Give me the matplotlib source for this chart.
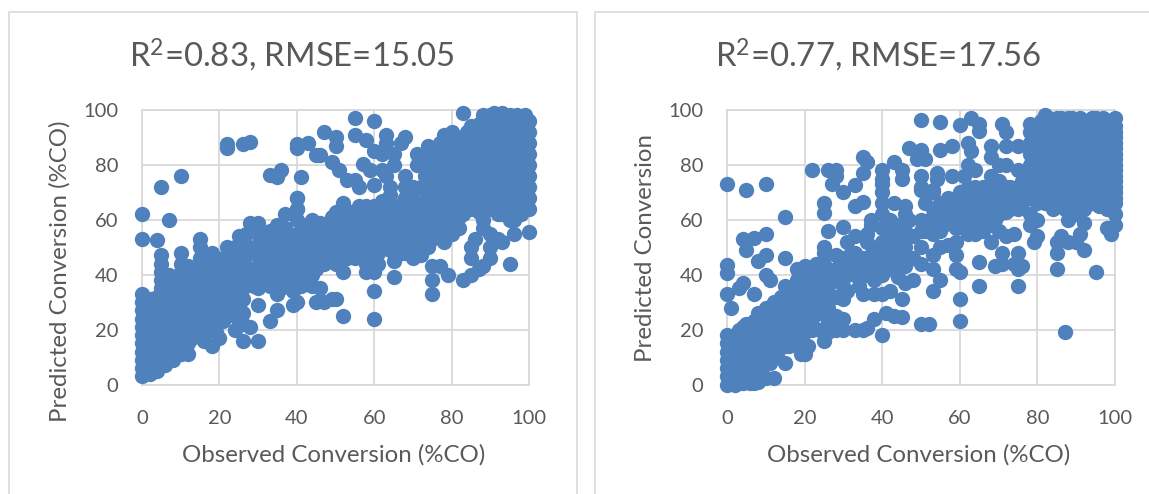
import matplotlib
matplotlib.use("Agg")
import matplotlib.pyplot as plt
from matplotlib.patches import Rectangle

plt.rcParams['font.family'] = ['Lato', 'DejaVu Sans']
plt.rcParams['mathtext.default'] = 'regular'

# values, (observed, predicted)
low_a = [(0,3),(0,6),(0,9),(0,12),(0,15),(0,18),(0,21),(0,24),(0,27),(0,30),(0,33),
(2,4),(2,7),(2,10),(2,13),(2,16),(2,19),(2,22),(2,25),(2,28),(2,31),
(4,5),(4,8),(4,11),(4,14),(4,17),(4,20),(4,23),(4,26),(4,29),(4,32),(5,35),(5,38),(5,41),(5,44),(5,47),
(6,7),(6,10),(6,13),(6,16),(6,19),(6,22),(6,25),(6,28),(6,31),(6,34),(6,37),(7,40),
(8,9),(8,12),(8,15),(8,18),(8,21),(8,24),(8,27),(8,30),(8,33),(8,36),(8,39),
(10,11),(10,14),(10,17),(10,20),(10,23),(10,26),(10,29),(10,32),(10,35),(10,38),(10,41),(10,44),(10,48),
(12,11),(12,15),(12,19),(12,23),(12,27),(12,31),(12,35),(12,39),(12,43),
(14,19),(14,23),(14,27),(14,31),(14,35),(14,39),(15,43),(15,46),(15,50),(15,53),
(16,16),(16,22),(16,26),(16,30),(16,34),(16,38),(16,42),
(18,14),(18,22),(18,26),(18,30),(18,34),(18,38),(18,42),(18,45),(18,48),
(20,17),(20,24),(20,28),(20,32),(20,36),(20,40),(20,44),
(22,25),(22,29),(22,33),(22,37),(22,41),(22,45),(22,50),
(24,20),(24,26),(24,30),(24,34),(24,38),(24,42),(24,46),(24,50),(25,54),
(26,16),(26,22),(26,26),(26,31),(26,35),(27,39),(27,43),(27,47),(27,51),(27,55),
(1,12),(3,20),(5,25),(7,31),(9,25),(11,33),(13,21),(13,29),(13,37),(15,25),(15,33),(15,40),(17,28),(17,36),(19,31),
(19,39),(21,27),(21,35),(21,42),(23,31),(23,39),(23,47),(25,29),(25,37),(25,44),
(1,5),(1,8),(1,16),(1,20),(1,24),(1,28),(3,6),(3,10),(3,14),(3,24),(3,28),(5,9),(5,13),(5,17),(5,21),(5,29),(5,32),(7,11),
(7,15),(7,19),(7,23),(7,27),(7,35),(9,13),(9,17),(9,21),(9,29),(9,33),(9,37),(11,13),(11,17),(11,21),(11,25),(11,29),(11,37),
(11,41),(13,17),(13,25),(13,33),(13,41),(15,21),(15,29),(15,37),(17,20),(17,24),(17,32),(17,40),(19,19),(19,23),(19,27),(19,35),
(19,43),(21,23),(21,31),(21,38),(21,46),(23,27),(23,35),(23,43),(25,23),(25,33),(25,41),(25,48)]
mid_a = [(28,21),(30,16),(30,29),(33,23),(35,27),(30,35),(30,39),(30,43),(30,47),(30,51),(30,55),(28,59),(30,59),
(33,36),(33,48),(33,52),(33,56),(35,33),(35,38),(35,45),(35,50),(35,54),(35,58),(37,62),(37,39),(37,47),(37,52),(37,57),
(39,34),(39,29),(40,30),(40,40),(40,46),(40,50),(40,55),(40,60),(40,64),(40,68),(42,39),(42,44),(42,49),(42,53),(42,58),
(44,36),(44,40),(44,46),(44,51),(44,56),(44,60),(45,30),(46,35),(47,30),(46,44),(46,49),(46,54),(46,59),(49,31),(50,31),
(48,47),(48,52),(48,57),(50,44),(50,49),(50,54),(50,59),(50,63),(52,25),(52,41),(52,46),(52,52),(52,57),(52,62),(52,66),
(54,48),(54,53),(54,58),(54,63),(56,47),(56,52),(56,57),(56,62),(56,65),(58,44),(58,41),(58,50),(58,55),(58,60),(58,65),
(60,24),(60,34),(60,41),(60,44),(60,50),(60,55),(60,60),(60,65),(62,52),(62,57),(62,62),(62,67),(65,39),(65,45),(64,49),
(64,54),(64,59),(64,64),(64,69),(66,50),(66,55),(66,60),(66,65),(68,48),(68,53),(68,58),(68,63),(68,68),(70,46),(70,50),
(70,55),(70,60),(70,65),(72,47),(72,57),(72,62),(73,67),(75,33),(75,38),(75,43),(77,43),(79,40),(75,53),(75,58),(75,63),
(78,52),(78,57),(78,62),(80,55),(82,57),(82,61),(83,38),(85,40),(87,42),(85,46),(85,50),(86,53),(88,43),(90,46),(90,50),
(88,57),(90,55),(92,53),(93,52),(95,44),(96,55),(88,60),(84,64),
(32,42),(32,46),(32,50),(34,42),(34,47),(36,35),(36,44),(36,49),(38,45),(38,50),(38,55),(41,36),(41,47),(41,52),(43,43),
(43,48),(43,55),(45,42),(45,48),(45,53),(47,51),(47,56),(49,50),(49,55),(49,61),(51,48),(51,52),(51,60),(53,51),(53,56),
(53,60),(55,50),(55,55),(55,60),(57,48),(57,54),(57,59),(59,53),(59,58),(59,63),(61,48),(61,54),(61,59),(61,64),(63,55),
(63,61),(65,52),(65,57),(65,62),(67,51),(67,56),(67,61),(69,52),(69,57),(69,62),(71,58),(71,63),(73,60),(73,56),(76,55),
(76,60),(79,55),(79,60),(81,60),(83,62),(71,52),(76,66),(72,66),
(29,36),(29,42),(29,48),(31,38),(31,44),(31,52),(33,40),(33,44),(35,42),(37,43),(39,38),(39,42),(39,47),(41,41),(43,37),
(45,45),(47,44),(47,48),(49,45),(51,44),(53,46),(55,46),(59,46),(61,44),(63,50),(67,48),(69,48),(74,50),(74,55),(74,60),
(77,55),(77,60),(77,64),(80,62),(79,65),(74,66)]
top_a = [(74,70),(74,74),(74,78),(74,83),(74,87),(72,72),(71,80),(71,84),(77,68),(77,72),(77,76),(77,80),(77,84),(77,88),
(78,91),(80,66),(80,70),(80,74),(80,78),(80,82),(80,86),(80,90),(80,92),(83,66),(83,70),(83,74),(83,78),(83,82),(83,86),
(83,90),(83,99),(85,94),(86,65),(86,69),(86,73),(86,77),(86,81),(86,85),(86,89),(86,93),(88,98),(89,66),(89,70),(89,74),
(89,78),(89,82),(89,86),(89,90),(89,94),(90,98),(92,62),(92,66),(92,70),(92,74),(92,78),(92,82),(92,86),(92,90),(92,94),
(93,99),(95,60),(95,64),(95,68),(95,72),(95,76),(95,80),(95,84),(95,88),(95,92),(95,96),(97,98),(98,62),(98,66),(98,70),
(98,74),(98,78),(98,82),(98,86),(98,90),(98,94),(100,55.5),(100,64),(100,68),(100,72),(100,76),(100,80),(100,84),(100,88),
(100,92),(100,96),(99,98)]
fill_a = [(76,70),(76,74),(76,78),(76,82),(78,66),(78,70),(78,74),(78,78),(78,82),(78,86),(82,64),(82,68),(82,72),(82,76),
(82,80),(82,84),(82,88),(84,68),(84,72),(84,76),(84,80),(84,84),(84,88),(84,92),(87,63),(87,67),(87,71),(87,75),(87,79),
(87,83),(87,87),(87,91),(87,95),(90,64),(90,68),(90,72),(90,76),(90,80),(90,84),(90,88),(90,92),(90,96),(93,62),(93,64),
(93,68),(93,72),(93,76),(93,80),(93,84),(93,88),(93,92),(93,96),(96,60),(96,66),(96,70),(96,74),(96,78),(96,82),(96,86),
(96,90),(96,94),(99,66),(99,70),(99,74),(99,78),(99,82),(99,86),(99,90),(99,94),(91,99),(95,98),(73,76),(73,80),
(75,68),(75,72),(75,76),(75,80),(75,84),(79,68),(79,72),(79,76),(79,80),(79,84),(79,88),(81,66),(81,70),(81,74),(81,78),
(81,82),(81,86),(81,90),(85,64),(85,68),(85,72),(85,76),(85,80),(85,84),(85,88),(85,91),(88,64),(88,68),(88,72),(88,76),
(88,80),(88,84),(88,88),(88,92),(91,64),(91,68),(91,72),(91,76),(91,80),(91,84),(91,88),(91,92),(94,66),(94,70),(94,74),
(94,78),(94,82),(94,86),(94,90),(94,94),(97,64),(97,68),(97,72),(97,76),(97,80),(97,84),(97,88),(97,92),(97,96)]
out_a = [(0,62),(0,53),(5,72),(10,76),(7,60),(4,52.5),(22,87.5),(22,86),(26,87.5),(28,88.5),(33,76.5),(35,75.5),(36,78),
(40,87.5),(40,86),(41,75.5),(43,88),(45,83.5),(46,83.5),(47,92),(50,90),(50,87),(49,81),(51,78),(53,74.5),(55,74.5),(55,97),
(55,91),(58,89),(60,96),(57,80.5),(59,78),(63,91),(63,88),(68,90),(67,88),(60,72.5),(63,76),(65,80),(62,84),(65,84),(60,85),
(40,68),(40,64),(62,78),(64,72),(68,76),(70,72),(70,68),(68,72),(56,72)]

low_b = [(0,0),(0,3),(0,6),(0,9),(0,12),(0,15),(0,18),(2,0),(2,3),(2,6),(2,9),(2,12),(2,15),(2,18),
(4,0.5),(4,3),(4,6),(4,9),(4,12),(4,15),(4,18),(4,21),(6,0.5),(6,4),(6,8),(6,12),(6,16),(6,20),(7,0.5),
(8,1),(8,6),(8,10),(8,14),(8,18),(8,22),(8,26),(10,2.5),(12,2.5),(10,8),(10,12),(10,16),(10,20),(10,24),(10,28),
(12,10),(12,14),(12,18),(12,22),(12,26),(12,30),(15,8),(14,16),(14,20),(14,24),(14,28),(14,32),(16,14),(16,20),(16,24),
(16,28),(16,32),(15,36),(18,17),(18,22),(18,26),(18,30),(18,34),(18,38),(18,42),(19,11),(19,15),(20,11),(20,19),(20,24),
(20,28),(20,32),(20,36),(20,40),(20,43),(21,14),(22,20),(22,24),(22,28),(22,32),(22,36),(22,40),(23,44),(24,20),(24,26),
(24,30),(24,34),(24,38),(24,42),(25,16),(26,19),(26,23),(26,28),(26,32),(26,36),(26,40),(25,44),(25,50),(25,48),
(1,2),(1,8),(1,14),(3,1),(3,5),(3,11),(3,17),(5,2),(5,7),(5,14),(5,19),(7,6),(7,11),(7,17),(7,23),(9,4),(9,10),(9,15),
(9,20),(9,25),(11,12),(11,18),(11,24),(13,14),(13,20),(13,26),(13,30),(15,18),(15,24),(15,30),(17,22),(17,28),(17,34),
(19,22),(19,30),(19,38),(21,26),(21,34),(21,42),(23,30),(23,38),(25,34),
(1,5),(1,11),(1,17),(3,8),(3,14),(3,20),(5,5),(5,10),(5,16),(5,22),(7,3),(7,9),(7,14),(7,20),(9,7),(9,12),(9,18),(9,23),
(11,8),(11,15),(11,21),(11,27),(13,11),(13,17),(13,23),(15,14),(15,21),(15,27),(15,33),(17,18),(17,25),(17,31),(19,26),
(19,34),(21,22),(21,30),(21,38),(23,26),(23,34),(23,41),(25,30),(25,38)]
mid_b = [(28,20),(28,25),(28,32),(28,38),(28,42),(28,47),(30,20),(30,24),(30,31),(30,36),(30,42),(30,46),(31,52),(33,20),
(33,44),(33,40),(33,48),(33,54),(35,20),(34,36),(35,33),(35,40),(35,46),(36,20.5),(36,52),(36,55),(37,42),(37,47),(38,24),
(38,38),(38,33),(39,44),(39,50),(37,58),(37,60),(40,18),(40,33),(40,40),(40,46),(40,52),(40,57),(40,62),(40,66),(40,70),
(40,73),(40,75),(40,78),(41,26),(42,34),(42,42),(42,48),(42,54),(42,60),(43,25),(43,66),(44,39),(44,45),(44,52),(44,58),
(45,31),(45,24.5),(46,37),(46,43),(46,50),(46,56),(46,62),(46,65),(48,38),(48,46),(48,54),(50,22),(52,22),(50,44),(50,50),
(50,56),(50,60),(50,72),(51,66),(53,34),(53,42),(53,47),(53,55),(53,60),(53,64),(53,70),(55,38),(55,50),(55,56),(55,62),
(55,66),(57,51),(57,60),(57,64),(57,68),(59,42),(59,47),(59,52),(59,57),(59,62),(60,23),(60,31),(60,41),(60,66),(60,70),
(62,55),(62,60),(62,64),(62,68),(62,72),(65,36),(65,44.5),(64,55),(64,59),(64,64),(64,68),(64,72),(66,56),(66,60),(66,64),
(66,68),(66,72),(68,52),(68,58),(68,63),(68,68),(68,72),(69,43),(71,44),(71,48),(70,56),(70,62),(70,66),(70,70),(70,74),
(72,54),(72,63),(72,68),(72,72),(74,55),(74,44),(75,36),(75,48),(75,42),(76,43),(75,64),(75,68),(75,72),(79,52),(80,54),
(78,58),(78,62),(80,60),(85,42),(87,19),(85,48),(85,52),(86,54),(88,52),(88,60),(90,52),(91,55),(92,49),(92,59),(95,41),
(29,40),(29,44),(31,34),(31,40),(31,45),(32,48),(34,40),(34,45),(36,40),(36,46),(38,42),(38,48),(41,44),(41,50),(41,56),
(43,42),(43,50),(43,58),(45,48),(45,54),(47,60),(51,56),(52,60),(54,58),(54,62),(56,58),(56,62),(58,60),(58,64),(60,58),
(60,62),(61,66),(63,62),(63,66),(63,70),(65,60),(65,66),(65,70),(67,58),(67,62),(67,66),(67,70),(69,60),(69,64),(69,68),
(71,64),(71,68),(71,72),(73,64),(73,68),(73,72),(76,66),(76,70),(76,74)]
top_b = [(78,95),(78,68),(78,72),(78,76),(78,80),(78,84),(78,88),(78,92),(80,66),(80,70),(80,74),(80,78),(80,82),(80,86),(80,90),
(80,94),(82,98),(83,66),(83,70),(83,74),(83,78),(83,82),(83,86),(83,90),(83,94),(83,97),(86,66),(86,70),(86,74),(86,78),(86,82),
(86,86),(86,90),(86,94),(86,97),(89,66),(89,70),(89,74),(89,78),(89,82),(89,86),(89,90),(89,94),(89,97),(92,64),(92,68),(92,72),
(92,76),(92,80),(92,84),(92,88),(92,92),(92,96),(95,66),(95,70),(95,74),(95,78),(95,82),(95,86),(95,90),(95,94),(95,97),(96,65),
(98,64),(98,68),(98,72),(98,76),(98,80),(98,84),(98,88),(98,92),(98,96),(100,62),(100,66),(100,70),(100,74),(100,78),(100,82),
(100,86),(100,90),(100,94),(100,97),(100,58),(98,57),(99,55)]
fill_b = [(81,68),(81,72),(81,76),(81,80),(81,84),(81,88),(81,92),(81,96),(84,64),(84,68),(84,72),(84,76),(84,80),(84,84),
(84,88),(84,92),(84,96),(87,64),(87,68),(87,72),(87,76),(87,80),(87,84),(87,88),(87,92),(87,96),(90,62),(90,68),(90,72),
(90,76),(90,80),(90,84),(90,88),(90,92),(90,96),(93,66),(93,70),(93,74),(93,78),(93,82),(93,86),(93,90),(93,94),(96,68),
(96,72),(96,76),(96,80),(96,84),(96,88),(96,92),(96,96),(99,68),(99,72),(99,76),(99,80),(99,84),(99,88),(99,92),(99,96),
(79,70),(79,74),(79,78),(79,82),(79,86),(79,90),
(82,66),(82,70),(82,74),(82,78),(82,82),(82,86),(82,90),(82,94),(85,66),(85,70),(85,74),(85,78),(85,82),(85,86),(85,90),
(85,94),(85,97),(88,66),(88,70),(88,74),(88,78),(88,82),(88,86),(88,90),(88,94),(88,97),(91,66),(91,70),(91,74),(91,78),
(91,82),(91,86),(91,90),(91,94),(91,97),(94,66),(94,70),(94,74),(94,78),(94,82),(94,86),(94,90),(94,97),(97,66),(97,70),
(97,74),(97,78),(97,82),(97,86),(97,90),(97,94),(97,97),(100,68),(100,72),(100,76),(100,80),(100,84),(100,88),(100,92)]
out_b = [(0,73),(5,71),(10,73),(15,61),(22,78),(26,78),(28,78),(28,76),(27,73),(30,70),(33,72.5),(35,83),(36,81),(35,77),
(25,66),(25,62.5),(33,65),(35,66.5),(26,56),(30,57.5),(4,53),(5,49),(7,53.5),(10,55),(8,45),(10,47),(15,46),(0,43.5),(0,40.5),
(0,33),(4,37),(3,35),(7,33),(1,28),(10,40),(11,38),(50,96.5),(55,95.5),(60,94.5),(63,97),(65,95),(65,92.5),(71,95),(47,86),
(50,85.5),(55,85.5),(58,87),(63,85),(62,88),(49,82),(51,82),(43,81),(45,78),(45,75),(50,76),(54,77),(54,75),(58,76),(62,80),
(61,76),(64,78),(68,83),(68,87),(72,92),(72,87),(75,87),(70,80),(72,80),(75,78),(68,76),(50,71),(53,71)]

title_a = 'R$^2$=0.83, RMSE=15.05'
title_b = 'R$^2$=0.77, RMSE=17.56'
xlabel = 'Observed Conversion (%CO)'
ylabel_a = 'Predicted Conversion (%CO)'
ylabel_b = 'Predicted Conversion'
ticks = [0, 20, 40, 60, 80, 100]

W, H = 1149, 494
fig = plt.figure(figsize=(W/100, H/100), dpi=100)

# the two chart frames, their lower edge runs off the picture
for x0, x1 in [(9, 577), (594.5, 1170)]:
    fig.add_artist(Rectangle((x0/W, -0.1), (x1-x0)/W, (H-12)/H+0.1, transform=fig.transFigure,
                             fill=False, ec='#D9D9D9', lw=1.2))


def panel(left, width, groups, title, ylab, tx, ylx, yly):
    ax = fig.add_axes([left/W, (H-384.5)/H, width/W, 274.5/H])
    for g in groups:
        ax.scatter([p[0] for p in g], [p[1] for p in g], s=122, c='#4F81BD', lw=0, clip_on=False, zorder=3)
    ax.set_xlim(0, 100)
    ax.set_ylim(0, 100)
    ax.set_xticks(ticks)
    ax.set_yticks(ticks)
    ax.grid(True, color='#D9D9D9', lw=1.3)
    ax.set_axisbelow(True)
    for s in ax.spines.values():
        s.set_color('#D9D9D9')
        s.set_linewidth(1.3)
    ax.tick_params(length=0, labelsize=14.5, labelcolor='#595959')
    ax.tick_params(axis='x', pad=18)
    ax.tick_params(axis='y', pad=17)
    fig.text(tx/W, (H-55)/H, title, fontsize=23.7, color='#595959', ha='center', va='center')
    fig.text((left+width/2-2)/W, (H-455)/H, xlabel, fontsize=17.3, color='#595959', ha='center', va='center')
    fig.text(ylx/W, (H-yly)/H, ylab, fontsize=17.3, color='#595959', ha='center', va='center', rotation=90)


panel(142, 387, [low_a, mid_a, top_a, fill_a, out_a], title_a, ylabel_a, 292, 60, 271)
panel(727, 388, [low_b, mid_b, top_b, fill_b, out_b], title_b, ylabel_b, 878, 646, 248)

fig.savefig('out.png', dpi=100)
